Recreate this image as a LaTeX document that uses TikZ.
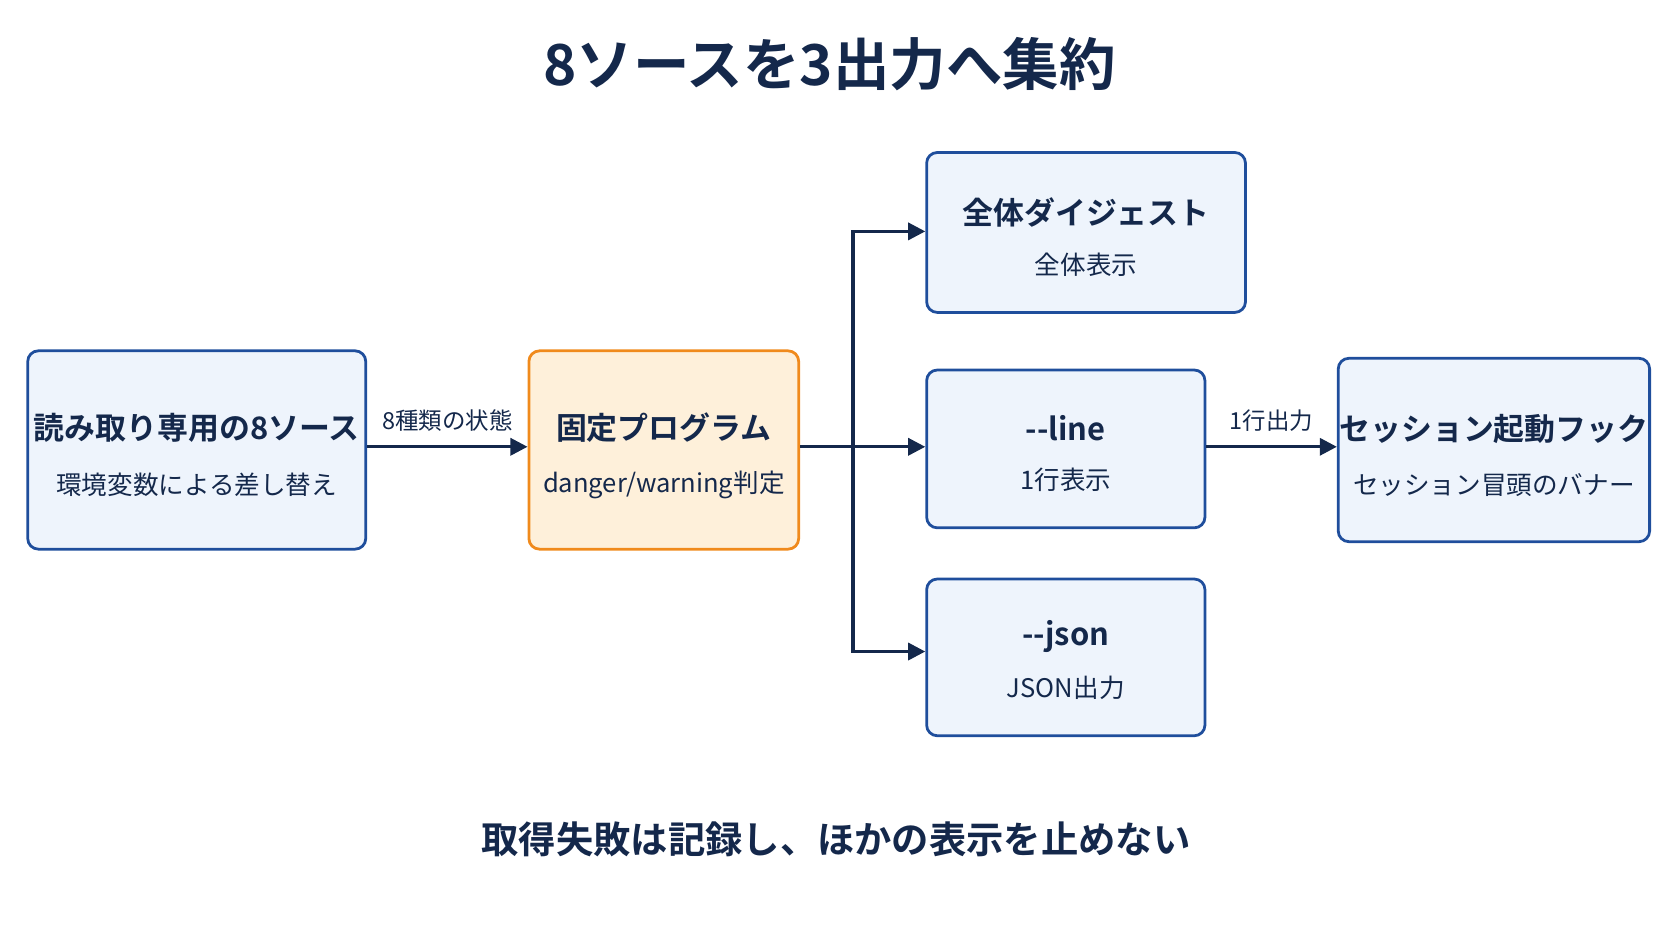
\documentclass[tikz,border=0pt]{standalone}
\usepackage{fontspec}
\setmainfont{Noto Sans CJK JP}
\newfontfamily\jpb{Noto Sans CJK JP Bold}
\usetikzlibrary{arrows.meta}
\definecolor{navy}{HTML}{14284B}
\definecolor{bbord}{HTML}{1F4E9C}
\definecolor{bfill}{HTML}{EEF4FC}
\definecolor{obord}{HTML}{F08A1C}
\definecolor{ofill}{HTML}{FEF0DA}
\begin{document}
\begin{tikzpicture}[x=0.5pt,y=-0.5pt,
 box/.style={draw=bbord,fill=bfill,line width=1.3pt,rounded corners=5pt,inner sep=0pt},
 ttl/.style={font=\jpb\fontsize{14.5}{17}\selectfont,text=navy},
 sub/.style={font=\fontsize{12}{14}\selectfont,text=navy},
 arr/.style={draw=navy,line width=1.5pt,-{Triangle[length=8pt,width=8pt]}}]
\useasboundingbox (0,0) rectangle (1568,882);
\node[text=navy,font=\jpb\fontsize{26.5}{30}\selectfont] (title) at (778,60) {8ソースを3出力へ集約};
\node[box,minimum width=158.5pt,minimum height=93pt] (src) at (184.5,422) {};
\node[ttl] (srct) at (184.5,401) {読み取り専用の8ソース};
\node[sub] (srcs) at (184.5,455) {環境変数による差し替え};
\node[box,draw=obord,fill=ofill,minimum width=126.5pt,minimum height=93pt] (prog) at (622.5,422) {};
\node[ttl] (progt) at (622.5,401) {固定プログラム};
\node[sub] (progs) at (622.5,455) {danger/warning判定};
\node[box,minimum width=149.5pt,minimum height=75pt] (dig) at (1018.5,218) {};
\node[ttl] (digt) at (1018.5,199) {全体ダイジェスト};
\node[sub] (digs) at (1018.5,248) {全体表示};
\node[box,minimum width=130.5pt,minimum height=74pt] (line) at (999.5,421) {};
\node[ttl] (linet) at (999.5,402) {-{}-line};
\node[sub] (lines) at (999.5,450) {1行表示};
\node[box,minimum width=130.5pt,minimum height=73.5pt] (json) at (999.5,616.5) {};
\node[ttl] (jsont) at (999.5,597) {-{}-json};
\node[sub] (jsons) at (999.5,645) {JSON出力};
\node[box,minimum width=146pt,minimum height=86pt] (hook) at (1401,422) {};
\node[ttl] (hookt) at (1401,402) {セッション起動フック};
\node[sub] (hooks) at (1401,455) {セッション冒頭のバナー};
\draw[arr] (src.east |- 0,419) -- node[above=3pt,text=navy,font=\fontsize{11}{13}\selectfont]{8種類の状態} (prog.west |- 0,419);
\coordinate (tr) at (800,419);
\draw[draw=navy,line width=1.5pt] (prog.east |- 0,419) -- (tr);
\draw[arr] (tr) -- (line.west |- 0,419);
\draw[arr] (tr) -- (800,217) -- (dig.west |- 0,217);
\draw[arr] (tr) -- (800,611) -- (json.west |- 0,611);
\draw[arr] (line.east |- 0,419) -- node[above=3pt,text=navy,font=\fontsize{11}{13}\selectfont]{1行出力} (hook.west |- 0,419);
\node[text=navy,font=\jpb\fontsize{17.5}{21}\selectfont] (foot) at (784,787) {取得失敗は記録し、ほかの表示を止めない};
\end{tikzpicture}
\end{document}
